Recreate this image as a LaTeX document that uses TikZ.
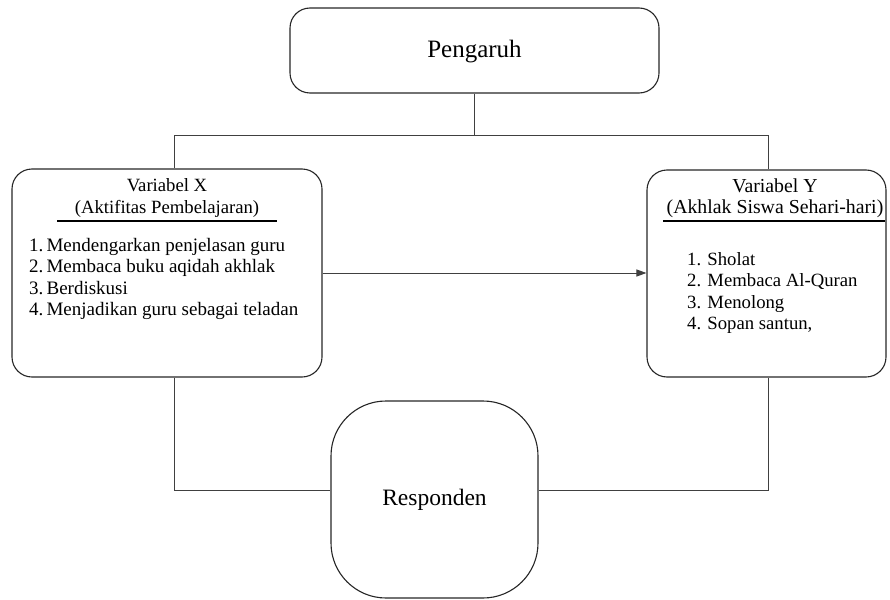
\documentclass[tikz,border=0pt]{standalone}
\usepackage{fontspec}
\setmainfont{Liberation Serif}
\usetikzlibrary{arrows.meta}
\begin{document}
\begin{tikzpicture}[x=1pt,y=-1pt,
  box/.style={draw=black!85,line width=1.1pt,rounded corners=20pt,inner sep=0pt},
  conn/.style={draw=black!75,line width=1pt},
  txt/.style={inner sep=0pt,font=\fontsize{19}{21.5}\selectfont}]
\useasboundingbox (0,0) rectangle (890,599);
\node[box,minimum width=369pt,minimum height=85pt] (P) at (474.5,50.5) {};
\node[inner sep=0pt,font=\fontsize{25}{28}\selectfont] (pt) at (474.5,52) {Pengaruh};
\node[box,minimum width=310pt,minimum height=208pt] (X) at (167,273) {};
\node[box,minimum width=239pt,minimum height=207pt] (Y) at (766.5,273.5) {};
\node[box,rounded corners=55pt,minimum width=207pt,minimum height=197pt,font=\fontsize{23.5}{26}\selectfont] (R) at (434.5,499.5) {Responden};
% texts
\node[txt,align=center,font=\fontsize{18.7}{21.5}\selectfont] (xh) at (167,198) {Variabel X\\(Aktifitas Pembelajaran)};
\draw[line width=1.6pt] (57,221) -- (277,221);
\node[txt,align=left,anchor=west] (xl) at (29,279) {1.\,Mendengarkan penjelasan guru\\2.\,Membaca buku aqidah akhlak\\3.\,Berdiskusi\\4.\,Menjadikan guru sebagai teladan};
\node[txt,align=center,font=\fontsize{19.8}{21.5}\selectfont] (yh) at (775,198) {Variabel Y\\(Akhlak Siswa Sehari-hari)};
\draw[line width=1.6pt] (663,221) -- (885,221);
\node[txt,align=left,anchor=west,font=\fontsize{18.7}{21.5}\selectfont] (yl) at (687,293) {1. Sholat\\2. Membaca Al-Quran\\3. Menolong\\4. Sopan santun,};
% connectors
\coordinate (j) at (474.5,135);
\coordinate (tl) at (174,135);
\coordinate (tr) at (768,135);
\coordinate (bl) at (174,490);
\coordinate (br) at (768,490);
\draw[conn] (P.south) -- (j);
\draw[conn] (tl) -- (tr);
\draw[conn] (tl) -- (tl |- X.north);
\draw[conn] (tr) -- (tr |- Y.north);
\draw[conn] (bl |- X.south) -- (bl) -- (bl -| R.west);
\draw[conn] (br -| R.east) -- (br) -- (br |- Y.south);
\draw[conn,-{Triangle[length=10pt,width=7pt]}] (X.east) -- (X.east -| Y.west);
\end{tikzpicture}
\end{document}
